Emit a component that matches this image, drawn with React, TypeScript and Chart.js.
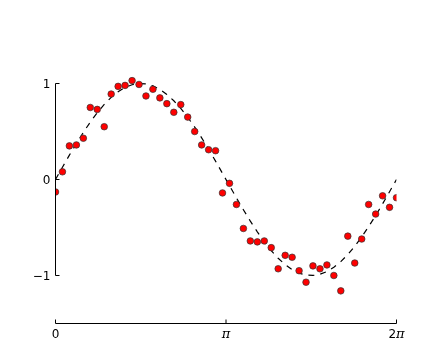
import React, { useEffect, useRef } from "react";
import { Chart, registerables } from "chart.js";

Chart.register(...registerables);

// Sample positions (0 … 2π, 50 samples)
const xValues = [
  0, 0.128, 0.256, 0.385, 0.513, 0.641, 0.769, 0.898, 1.026, 1.154,
  1.282, 1.411, 1.539, 1.667, 1.795, 1.923, 2.052, 2.18, 2.308, 2.436,
  2.565, 2.693, 2.821, 2.949, 3.077, 3.206, 3.334, 3.462, 3.59, 3.719,
  3.847, 3.975, 4.103, 4.232, 4.36, 4.488, 4.616, 4.744, 4.873, 5.001,
  5.129, 5.257, 5.386, 5.514, 5.642, 5.77, 5.899, 6.027, 6.155, 6.283,
];

// Dashed curve values
const curveValues = [
  0, 0.1279, 0.2537, 0.3752, 0.4907, 0.5981, 0.6957, 0.7818, 0.8551, 0.9144,
  0.9587, 0.9872, 0.9995, 0.9954, 0.9749, 0.9385, 0.8866, 0.8204, 0.7403, 0.6482,
  0.5455, 0.4339, 0.3152, 0.1912, 0.0641, -0.0641, -0.1912, -0.3152, -0.4339, -0.5455,
  -0.6482, -0.7403, -0.8204, -0.8866, -0.9385, -0.9749, -0.9954, -0.9995, -0.9872, -0.9587,
  -0.9144, -0.8551, -0.7818, -0.6957, -0.5981, -0.4907, -0.3752, -0.2537, -0.1279, 0,
];

// Noisy samples (red markers)
const noisyValues = [
  -0.13, 0.08, 0.35, 0.36, 0.43, 0.75, 0.73, 0.55, 0.89, 0.97,
  0.98, 1.03, 0.99, 0.87, 0.94, 0.85, 0.79, 0.7, 0.78, 0.65,
  0.5, 0.36, 0.31, 0.3, -0.14, -0.04, -0.26, -0.51, -0.64, -0.65,
  -0.64, -0.71, -0.93, -0.79, -0.81, -0.95, -1.07, -0.9, -0.93, -0.89,
  -1.0, -1.16, -0.59, -0.87, -0.62, -0.26, -0.36, -0.17, -0.29, -0.19,
];

const yTickValues = [-1, 0, 1];
const yTickLabels = ["\u22121", "0", "1"];
const xTickValues = [0, Math.PI, 2 * Math.PI];
const xTickLabels = ["0", "\u03c0", "2\u03c0"];

const SANS = "12px 'DejaVu Sans'";
const PI_FONT = "italic 13px 'DejaVu Serif'";

const spinePlugin = {
  id: "customSpines",
  afterDraw(chart: any) {
    const { ctx, scales } = chart;
    const xs = scales.x;
    const ys = scales.y;
    const leftX = xs.getPixelForValue(xTickValues[0]);
    const rightX = xs.getPixelForValue(xTickValues[xTickValues.length - 1]);
    const yTop = ys.getPixelForValue(yTickValues[yTickValues.length - 1]);
    const yBot = ys.getPixelForValue(yTickValues[0]);
    const baseY = ys.getPixelForValue(ys.min);

    ctx.save();
    ctx.strokeStyle = "#000";
    ctx.lineWidth = 1;
    ctx.beginPath();
    // left spine, bounded to -1..1
    ctx.moveTo(leftX, yTop);
    ctx.lineTo(leftX, yBot);
    // bottom spine, bounded to 0..2π
    ctx.moveTo(leftX, baseY);
    ctx.lineTo(rightX, baseY);
    // y ticks (inward)
    yTickValues.forEach((v) => {
      const py = ys.getPixelForValue(v);
      ctx.moveTo(leftX, py);
      ctx.lineTo(leftX + 4, py);
    });
    // x ticks (inward)
    xTickValues.forEach((v) => {
      const px = xs.getPixelForValue(v);
      ctx.moveTo(px, baseY);
      ctx.lineTo(px, baseY - 4);
    });
    ctx.stroke();

    // y tick labels
    ctx.fillStyle = "#000";
    ctx.font = SANS;
    ctx.textAlign = "right";
    ctx.textBaseline = "alphabetic";
    yTickValues.forEach((v, i) => {
      const py = ys.getPixelForValue(v);
      ctx.fillText(yTickLabels[i], leftX - 5, py + 4.5);
    });

    // x tick labels (π in italic serif)
    ctx.textAlign = "left";
    xTickValues.forEach((v, i) => {
      const px = xs.getPixelForValue(v);
      const chars = Array.from(xTickLabels[i]);
      const widths = chars.map((c) => {
        ctx.font = c === "\u03c0" ? PI_FONT : SANS;
        return ctx.measureText(c).width;
      });
      const total = widths.reduce((a, b) => a + b, 0);
      let cx = px - total / 2;
      chars.forEach((c, j) => {
        ctx.font = c === "\u03c0" ? PI_FONT : SANS;
        ctx.fillText(c, cx, baseY + 14.5);
        cx += widths[j];
      });
    });
    ctx.restore();
  },
};

export default function App() {
  const canvasRef = useRef<HTMLCanvasElement | null>(null);

  useEffect(() => {
    if (!canvasRef.current) return;
    const chart = new Chart(canvasRef.current, {
      type: "scatter",
      data: {
        datasets: [
          {
            label: "samples",
            data: xValues.map((x, i) => ({ x, y: noisyValues[i] })),
            showLine: false,
            pointRadius: 3.3,
            pointHoverRadius: 3.3,
            pointBackgroundColor: "#ff0000",
            pointBorderColor: "#333",
            pointBorderWidth: 0.7,
            order: 0,
          },
          {
            label: "curve",
            data: xValues.map((x, i) => ({ x, y: curveValues[i] })),
            showLine: true,
            pointRadius: 0,
            borderColor: "#000",
            borderWidth: 1.2,
            borderDash: [6, 6],
            tension: 0,
            order: 1,
          },
        ],
      },
      options: {
        animation: false,
        responsive: false,
        devicePixelRatio: 1,
        layout: { padding: { left: 55.5, right: 43.5, top: 35.5, bottom: 36.5 } },
        plugins: {
          legend: { display: false },
          tooltip: { enabled: false },
          title: { display: false },
        },
        scales: {
          x: { type: "linear", min: 0, max: 2 * Math.PI, display: false },
          y: { type: "linear", min: -1.5, max: 1.5, display: false },
        },
      },
      plugins: [spinePlugin],
    });
    return () => chart.destroy();
  }, []);

  return (
    <div style={{ position: "fixed", left: 0, top: 0, width: 440, height: 360, background: "#fff" }}>
      <canvas ref={canvasRef} width={440} height={360} />
    </div>
  );
}
